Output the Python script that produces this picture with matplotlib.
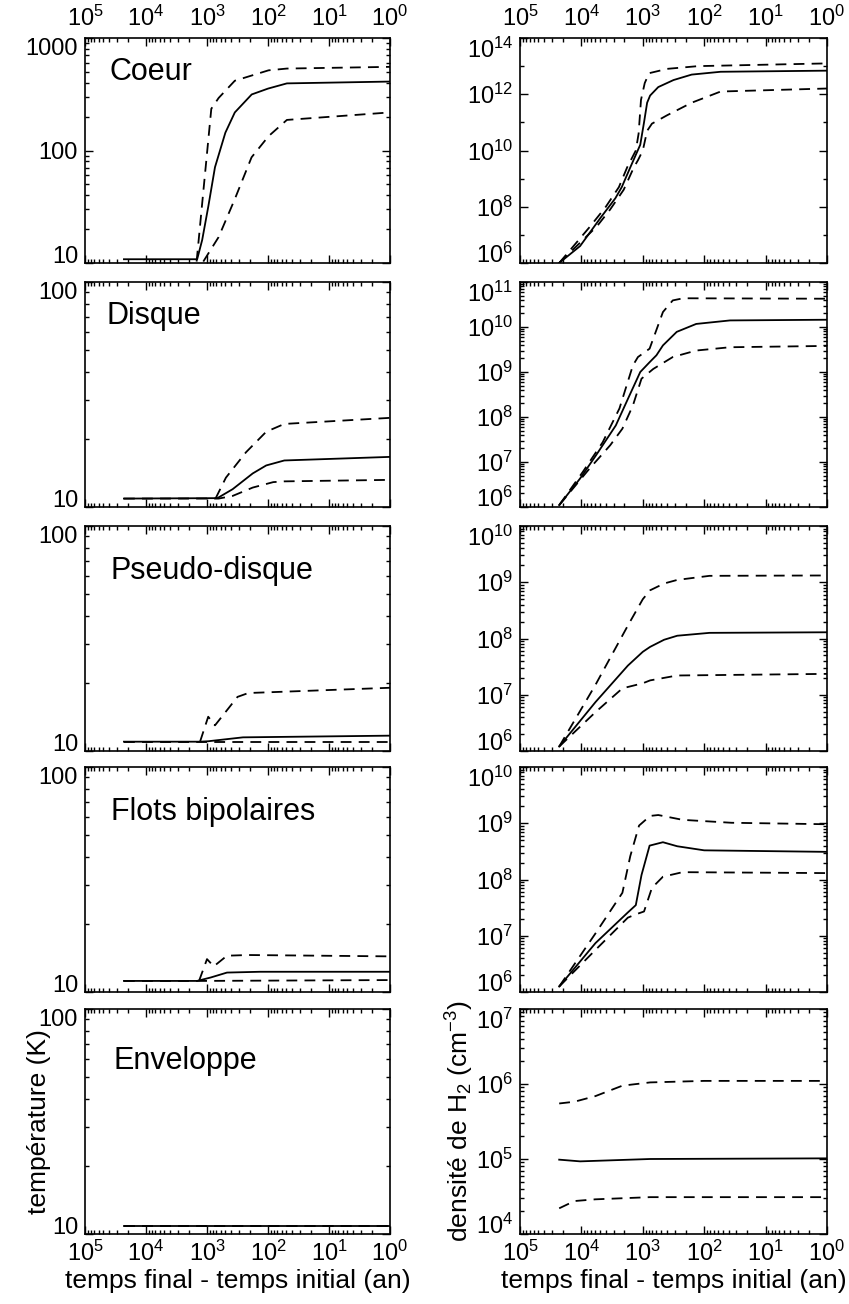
import numpy as np
import matplotlib
matplotlib.use('Agg')
from matplotlib import pyplot as plt
from matplotlib.ticker import LogLocator, FixedLocator, FuncFormatter, NullFormatter

plt.rcParams['font.family'] = ['Liberation Sans', 'DejaVu Sans']
plt.rcParams['mathtext.fontset'] = 'custom'
plt.rcParams['mathtext.rm'] = 'Liberation Sans'
plt.rcParams['mathtext.default'] = 'regular'

# ===== data (time in years before the end, T in K, n in cm^-3) =====
# Coeur
coeur_T_mid_t = [2.3e4, 1.45e3, 1.2e3, 9.5e2, 7.4e2, 5.0e2, 3.5e2, 1.85e2, 1.0e2, 4.9e1, 1.0]
coeur_T_mid = [10.8, 10.8, 16, 32, 71, 144, 218, 315, 355, 395, 410]
coeur_T_hi_t = [1.48e3, 1.15e3, 8.5e2, 6.45e2, 3.5e2, 9.8e1, 4.9e1, 1.0]
coeur_T_hi = [10.3, 43, 235, 293, 417, 516, 535, 554]
coeur_T_lo_t = [1.15e3, 6.45e2, 3.5e2, 1.86e2, 9.8e1, 4.9e1, 1.0]
coeur_T_lo = [10.3, 17, 37, 87, 134, 187, 218]

coeur_n_mid_t = [2.3e4, 1.05e4, 4.9e3, 2.8e3, 2.2e3, 1.6e3, 1.1e3, 9.55e2, 8.5e2, 7.6e2, 5.6e2, 3.16e2, 1.6e2, 5.4e1, 1.0]
coeur_n_mid = [1.0e6, 4.0e6, 4.0e7, 2.0e8, 5.0e8, 2.5e9, 1.6e10, 1.0e11, 5.0e11, 9.0e11, 1.8e12, 3.2e12, 5.0e12, 6.3e12, 6.9e12]
coeur_n_hi_t = [2.3e4, 7.2e3, 4.0e3, 2.45e3, 1.8e3, 1.3e3, 1.17e3, 1.07e3, 9.3e2, 7.9e2, 4.0e2, 1.26e2, 1.0]
coeur_n_hi = [1.0e6, 2.0e7, 1.0e8, 5.0e8, 2.5e9, 1.0e10, 4.0e10, 6.3e11, 2.5e12, 5.6e12, 8.0e12, 1.0e13, 1.25e13]
coeur_n_lo_t = [2.3e4, 5.6e3, 3.4e3, 2.05e3, 1.4e3, 1.2e3, 1.0e3, 8.5e2, 7.1e2, 4.0e2, 1.6e2, 5.4e1, 1.0]
coeur_n_lo = [1.0e6, 2.0e7, 8.0e7, 4.0e8, 2.5e9, 4.5e9, 1.0e10, 5.0e10, 9.0e10, 1.8e11, 5.0e11, 1.25e12, 1.6e12]

# Disque
disque_T_mid_t = [2.3e4, 6.75e2, 3.8e2, 1.78e2, 1.07e2, 5.4e1, 1.0]
disque_T_mid = [10.9, 10.95, 12.0, 14.1, 15.3, 16.1, 16.7]
disque_T_hi_t = [7.25e2, 4.9e2, 2.3e2, 1.07e2, 5.4e1, 1.0]
disque_T_hi = [10.9, 13.5, 17.5, 21.6, 23.4, 24.9]
disque_T_lo_t = [2.3e4, 6.45e2, 3.8e2, 1.78e2, 8.2e1, 5.4e1, 1.0]
disque_T_lo = [10.9, 10.9, 11.2, 12.2, 12.9, 13.0, 13.2]

disque_n_mid_t = [2.3e4, 1.05e4, 5.8e3, 2.75e3, 1.65e3, 1.1e3, 7.75e2, 6.0e2, 4.7e2, 2.8e2, 1.35e2, 3.8e1, 1.0]
disque_n_mid = [1.1e6, 4.3e6, 1.4e7, 6.5e7, 3.0e8, 1.0e9, 1.65e9, 2.35e9, 3.9e9, 7.8e9, 1.17e10, 1.4e10, 1.45e10]
disque_n_hi_t = [2.3e4, 9.5e3, 4.5e3, 2.4e3, 1.45e3, 1.2e3, 7.75e2, 4.7e2, 3.25e2, 2.2e2, 1.0]
disque_n_hi = [1.1e6, 6.0e6, 2.75e7, 1.55e8, 1.4e9, 2.15e9, 3.3e9, 2.15e10, 3.9e10, 4.35e10, 4.25e10]
disque_n_lo_t = [2.3e4, 7.4e3, 3.4e3, 2.15e3, 1.45e3, 1.05e3, 6.75e2, 3.25e2, 1.35e2, 3.8e1, 1.0]
disque_n_lo = [1.1e6, 7.1e6, 2.35e7, 5.5e7, 1.8e8, 7.1e8, 1.17e9, 2.15e9, 3.0e9, 3.55e9, 3.8e9]

# Pseudo-disque
pseudo_T_mid_t = [2.3e4, 1.3e3, 9.55e2, 2.57e2, 1.0]
pseudo_T_mid = [11.0, 11.0, 11.05, 11.5, 11.7]
pseudo_T_hi_t = [1.3e3, 9.55e2, 7.4e2, 3.16e2, 2.1e2, 1.0]
pseudo_T_hi = [11.0, 14.2, 13.0, 17.4, 18.1, 19.1]
pseudo_T_lo_t = [2.3e4, 1.0]
pseudo_T_lo = [11.0, 11.0]

pseudo_n_mid_t = [2.3e4, 5.9e3, 1.75e3, 1.0e3, 7.6e2, 4.5e2, 2.75e2, 8.2e1, 1.0]
pseudo_n_mid = [1.2e6, 7.4e6, 3.3e7, 5.8e7, 7.1e7, 9.5e7, 1.12e8, 1.26e8, 1.29e8]
pseudo_n_hi_t = [2.3e4, 5.9e3, 1.75e3, 1.0e3, 7.6e2, 4.5e2, 2.75e2, 8.2e1, 1.0]
pseudo_n_hi = [1.2e6, 1.5e7, 1.7e8, 5.0e8, 7.2e8, 9.5e8, 1.1e9, 1.3e9, 1.32e9]
pseudo_n_lo_t = [2.3e4, 5.9e3, 2.15e3, 1.0e3, 7.6e2, 2.75e2, 1.0]
pseudo_n_lo = [1.2e6, 4.9e6, 1.3e7, 1.6e7, 1.8e7, 2.2e7, 2.35e7]

# Flots bipolaires
flots_T_mid_t = [2.3e4, 1.45e3, 8.7e2, 4.7e2, 1.35e2, 1.0]
flots_T_mid = [11.2, 11.2, 11.6, 12.2, 12.3, 12.3]
flots_T_hi_t = [1.35e3, 1.0e3, 7.75e2, 4.7e2, 2.1e2, 1.0]
flots_T_hi = [11.2, 14.0, 13.0, 14.5, 14.6, 14.4]
flots_T_lo_t = [2.3e4, 1.3e3, 1.0]
flots_T_lo = [11.2, 11.2, 11.3]

flots_n_mid_t = [2.3e4, 5.9e3, 1.75e3, 1.3e3, 1.05e3, 7.75e2, 4.7e2, 2.75e2, 1.0e2, 1.0]
flots_n_mid = [1.25e6, 7.4e6, 2.6e7, 3.5e7, 1.2e8, 4.0e8, 4.6e8, 3.9e8, 3.3e8, 3.1e8]
flots_n_hi_t = [2.3e4, 5.9e3, 2.15e3, 1.6e3, 1.15e3, 7.6e2, 5.6e2, 2.25e2, 3.6e1, 1.0]
flots_n_hi = [1.25e6, 1.1e7, 5.8e7, 2.6e8, 9.1e8, 1.35e9, 1.4e9, 1.15e9, 1.02e9, 9.6e8]
flots_n_lo_t = [2.3e4, 5.9e3, 1.75e3, 1.3e3, 9.55e2, 7.1e2, 4.7e2, 2.25e2, 1.0]
flots_n_lo = [1.25e6, 5.6e6, 2.1e7, 2.4e7, 2.7e7, 7.1e7, 1.12e8, 1.35e8, 1.3e8]

# Enveloppe
env_T_mid_t = [2.3e4, 1.0]
env_T_mid = [10.9, 10.9]
env_T_hi_t = [2.3e4, 1.0]
env_T_hi = [10.9, 10.9]
env_T_lo_t = [2.3e4, 1.0]
env_T_lo = [10.9, 10.9]

env_n_mid_t = [2.3e4, 1.05e4, 7.6e2, 1.0]
env_n_mid = [9.8e4, 9.3e4, 1.0e5, 1.02e5]
env_n_hi_t = [2.3e4, 1.3e4, 5.9e3, 2.15e3, 7.6e2, 1.0e2, 1.0]
env_n_hi = [5.5e5, 5.8e5, 6.9e5, 9.5e5, 1.05e6, 1.1e6, 1.1e6]
env_n_lo_t = [2.3e4, 1.3e4, 5.9e3, 7.6e2, 1.0]
env_n_lo = [2.2e4, 2.75e4, 2.9e4, 3.1e4, 3.1e4]

region_names = ['Coeur', 'Disque', 'Pseudo-disque', 'Flots bipolaires', 'Enveloppe']

temp_curves = [
    [(coeur_T_mid_t, coeur_T_mid), (coeur_T_hi_t, coeur_T_hi), (coeur_T_lo_t, coeur_T_lo)],
    [(disque_T_mid_t, disque_T_mid), (disque_T_hi_t, disque_T_hi), (disque_T_lo_t, disque_T_lo)],
    [(pseudo_T_mid_t, pseudo_T_mid), (pseudo_T_hi_t, pseudo_T_hi), (pseudo_T_lo_t, pseudo_T_lo)],
    [(flots_T_mid_t, flots_T_mid), (flots_T_hi_t, flots_T_hi), (flots_T_lo_t, flots_T_lo)],
    [(env_T_mid_t, env_T_mid), (env_T_hi_t, env_T_hi), (env_T_lo_t, env_T_lo)],
]
dens_curves = [
    [(coeur_n_mid_t, coeur_n_mid), (coeur_n_hi_t, coeur_n_hi), (coeur_n_lo_t, coeur_n_lo)],
    [(disque_n_mid_t, disque_n_mid), (disque_n_hi_t, disque_n_hi), (disque_n_lo_t, disque_n_lo)],
    [(pseudo_n_mid_t, pseudo_n_mid), (pseudo_n_hi_t, pseudo_n_hi), (pseudo_n_lo_t, pseudo_n_lo)],
    [(flots_n_mid_t, flots_n_mid), (flots_n_hi_t, flots_n_hi), (flots_n_lo_t, flots_n_lo)],
    [(env_n_mid_t, env_n_mid), (env_n_hi_t, env_n_hi), (env_n_lo_t, env_n_lo)],
]

temp_ticks = [[10, 100, 1000], [10, 100], [10, 100], [10, 100], [10, 100]]
dens_ticks = [[1e6, 1e8, 1e10, 1e12, 1e14],
              [1e6, 1e7, 1e8, 1e9, 1e10, 1e11],
              [1e6, 1e7, 1e8, 1e9, 1e10],
              [1e6, 1e7, 1e8, 1e9, 1e10],
              [1e4, 1e5, 1e6, 1e7]]
label_pos = [(0.08, 0.85), (0.07, 0.85), (0.085, 0.80), (0.085, 0.80), (0.095, 0.77)]

W, H = 849, 1304
fig = plt.figure(figsize=(W / 100, H / 100), dpi=100)

row_tops = [38, 282, 526, 767, 1009]
row_h = 225
col_left = [85, 520]
col_w = [305, 307]

pow_fmt = FuncFormatter(lambda v, p: '10$^{%d}$' % int(round(np.log10(v))))
plain_fmt = FuncFormatter(lambda v, p: '%d' % int(round(v)))


def style_axis(ax, row):
    ax.set_xscale('log')
    ax.set_xlim(1e5, 1e0)
    ax.xaxis.set_major_locator(LogLocator(base=10, numticks=10))
    ax.xaxis.set_minor_locator(LogLocator(base=10, subs=np.arange(2, 10), numticks=10))
    ax.xaxis.set_major_formatter(pow_fmt)
    ax.xaxis.set_minor_formatter(NullFormatter())
    ax.tick_params(which='both', direction='in', top=True, right=True, width=1.0,
                   labelsize=17, labelbottom=(row == 4), labeltop=(row == 0))
    ax.tick_params(axis='x', pad=5)
    ax.tick_params(axis='y', pad=5)
    ax.tick_params(which='major', length=6)
    ax.tick_params(which='minor', length=3)
    for sp in ax.spines.values():
        sp.set_linewidth(1.2)


def set_yticks(ax, ticks, lims, fmt, minor):
    ax.set_yscale('log')
    ax.set_ylim(*lims)
    ax.yaxis.set_major_locator(FixedLocator(ticks))
    ax.yaxis.set_minor_locator(minor)
    ax.yaxis.set_major_formatter(fmt)
    ax.yaxis.set_minor_formatter(NullFormatter())
    # IDL style: edge labels sit inside the frame height
    locs = ax.yaxis.get_majorticklocs()
    for tick, loc in zip(ax.yaxis.get_major_ticks(len(locs)), locs):
        if np.isclose(loc, lims[0]):
            tick.label1.set_va('baseline')
        elif np.isclose(loc, lims[1]):
            tick.label1.set_va('top')


def draw_curves(ax, curves):
    (t0, y0), (t1, y1), (t2, y2) = curves
    ax.plot(t0, y0, color='black', lw=1.3)
    ax.plot(t1, y1, color='black', lw=1.3, dashes=(6, 4))
    ax.plot(t2, y2, color='black', lw=1.3, dashes=(6, 4))


for row in range(5):
    bottom = 1 - (row_tops[row] + row_h) / H
    # temperature
    ax = fig.add_axes([col_left[0] / W, bottom, col_w[0] / W, row_h / H])
    draw_curves(ax, temp_curves[row])
    style_axis(ax, row)
    tt = temp_ticks[row]
    set_yticks(ax, tt, (tt[0], tt[-1]), plain_fmt,
               LogLocator(base=10, subs=np.arange(2, 10), numticks=10))
    ax.text(label_pos[row][0], label_pos[row][1], region_names[row], transform=ax.transAxes,
            fontsize=22, va='center', ha='left')
    if row == 4:
        ax.set_ylabel('température (K)', fontsize=19)
        ax.yaxis.set_label_coords(-0.11, 0.5)
        ax.set_xlabel('temps final - temps initial (an)', fontsize=19, labelpad=2)

    # density
    ax = fig.add_axes([col_left[1] / W, bottom, col_w[1] / W, row_h / H])
    draw_curves(ax, dens_curves[row])
    style_axis(ax, row)
    dt = dens_ticks[row]
    if row == 0:
        minor = FixedLocator([1e7, 1e9, 1e11, 1e13])
    else:
        minor = LogLocator(base=10, subs=np.arange(2, 10), numticks=12)
    set_yticks(ax, dt, (dt[0], dt[-1]), pow_fmt, minor)
    if row == 4:
        ax.set_ylabel('densité de H$_2$ (cm$^{-3}$)', fontsize=19)
        ax.yaxis.set_label_coords(-0.142, 0.5)
        ax.set_xlabel('temps final - temps initial (an)', fontsize=19, labelpad=2)

fig.savefig('out.png', dpi=100)
